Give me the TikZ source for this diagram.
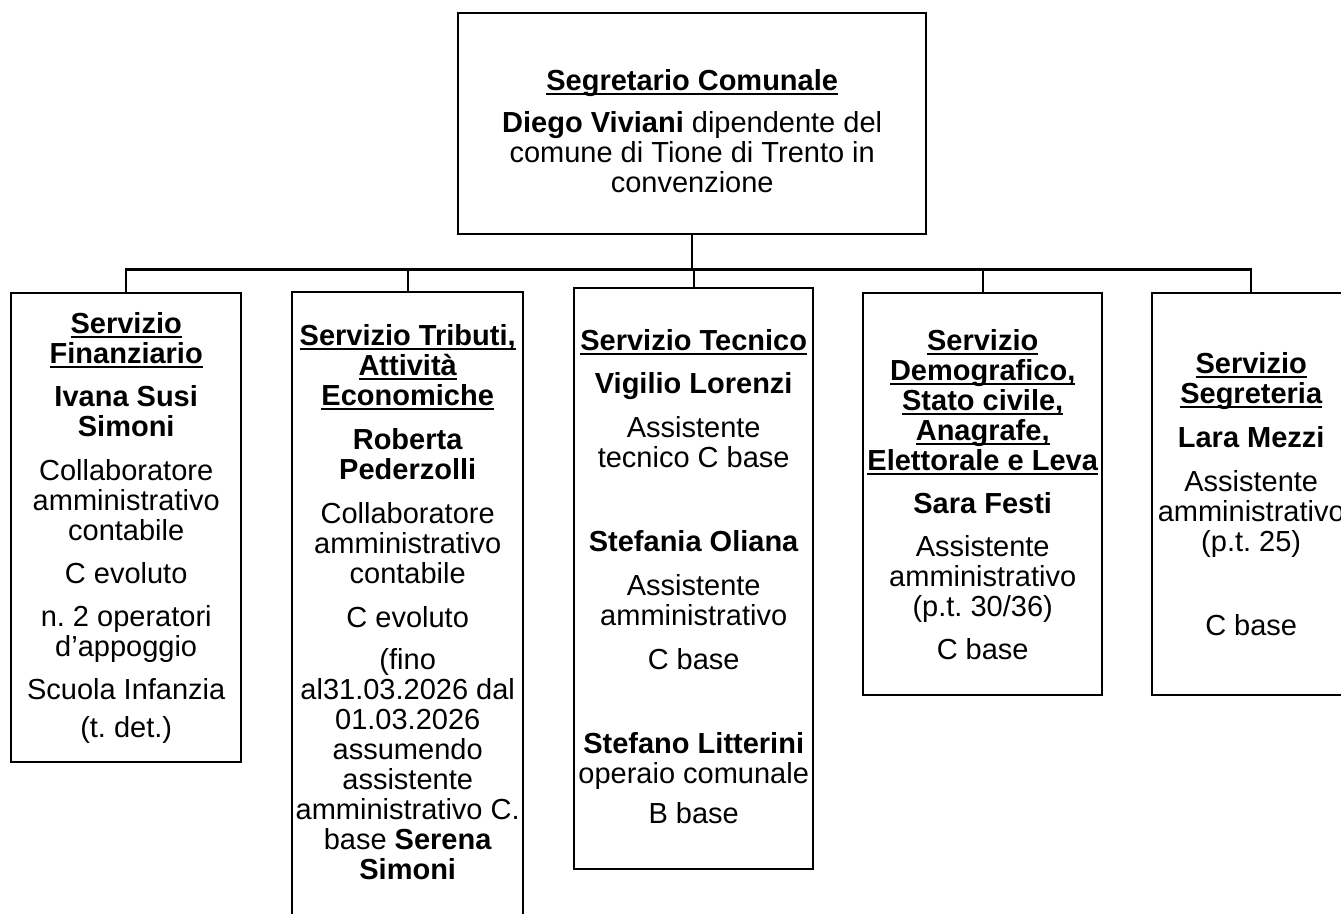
\documentclass[tikz,border=0pt]{standalone}
\usepackage{fontspec}
\setmainfont{Liberation Sans}
\usetikzlibrary{positioning}
\frenchspacing
% bold text with a close underline
\newcommand\ulbf[1]{{\bfseries\setbox0\hbox{#1}\rlap{\rule[-4.5pt]{\wd0}{1.8pt}}\box0}}

\begin{document}
\begin{tikzpicture}[x=1pt,y=1pt,
  box/.style={draw,line width=2.4pt,anchor=north west,inner sep=0pt},
  txt/.style={align=center,inner sep=0pt,font=\fontsize{29pt}{30pt}\selectfont},
  link/.style={line width=2.4pt}]
\path[use as bounding box] (0,0) rectangle (1341,-913);
\clip (0,0) rectangle (1341,-913);
%
\node[box,minimum width=468pt,minimum height=221pt] (seg) at (457,-12) {};
\node[txt,below=57pt of seg.north] (segtxt) {\ulbf{Segretario Comunale}\\[12pt]
  \textbf{Diego Viviani} dipendente del\\ comune di Tione di Trento in\\ convenzione};
%
\node[box,minimum width=230pt,minimum height=469pt] (fin) at (10,-292) {};
\node[box,minimum width=231pt,minimum height=639pt] (trib) at (291,-291) {};
\node[box,minimum width=239pt,minimum height=581pt] (tec) at (573,-287) {};
\node[box,minimum width=239pt,minimum height=402pt] (dem) at (862,-292) {};
\node[box,minimum width=198pt,minimum height=402pt] (segr) at (1151,-292) {};
%
\draw[link] (seg.south) -- ++(0,-34) coordinate (bus);
\draw[link] (fin.north) |- (bus) -| (segr.north);
\foreach \b in {trib,tec,dem}
  \draw[link] (\b.north) -- (\b.north |- bus);
%
\node[txt,below=20pt of fin.north] (fintxt) {\ulbf{Servizio}\\ \ulbf{Finanziario}\\[13pt]
  \textbf{Ivana Susi}\\ \textbf{Simoni}\\[14pt]
  Collaboratore\\ amministrativo\\ contabile\\[13pt]
  C evoluto\\[13pt]
  n. 2 operatori\\ d’appoggio\\[13pt]
  Scuola Infanzia\\[8pt]
  (t. det.)};
%
\node[txt,below=33pt of trib.north] (tribtxt) {\ulbf{Servizio Tributi,}\\ \ulbf{Attività}\\ \ulbf{Economiche}\\[14pt]
  \textbf{Roberta}\\ \textbf{Pederzolli}\\[14pt]
  Collaboratore\\ amministrativo\\ contabile\\[14pt]
  C evoluto\\[12pt]
  (fino\\ al31.03.2026 dal\\ 01.03.2026\\ assumendo\\ assistente\\ amministrativo C.\\
  base \textbf{Serena}\\ \textbf{Simoni}};
%
\node[txt,below=42pt of tec.north] (tectxt) {\ulbf{Servizio Tecnico}\\[13pt]
  \textbf{Vigilio Lorenzi}\\[14pt]
  Assistente\\ tecnico C base\\[54pt]
  \textbf{Stefania Oliana}\\[14pt]
  Assistente\\ amministrativo\\[14pt]
  C base\\[54pt]
  \textbf{Stefano Litterini}\\ operaio comunale\\[10pt]
  B base};
%
\node[txt,below=37pt of dem.north] (demtxt) {\ulbf{Servizio}\\ \ulbf{Demografico,}\\
  \ulbf{Stato civile,}\\ \ulbf{Anagrafe,}\\ \ulbf{Elettorale e Leva}\\[13pt]
  \textbf{Sara Festi}\\[13pt]
  Assistente\\ amministrativo\\ (p.t. 30/36)\\[13pt]
  C base};
%
\node[txt,below=60pt of segr.north] (segrtxt) {\ulbf{Servizio}\\ \ulbf{Segreteria}\\[14pt]
  \textbf{Lara Mezzi}\\[14pt]
  Assistente\\ amministrativo\\ (p.t. 25)\\[54pt]
  C base};
\end{tikzpicture}
\end{document}
